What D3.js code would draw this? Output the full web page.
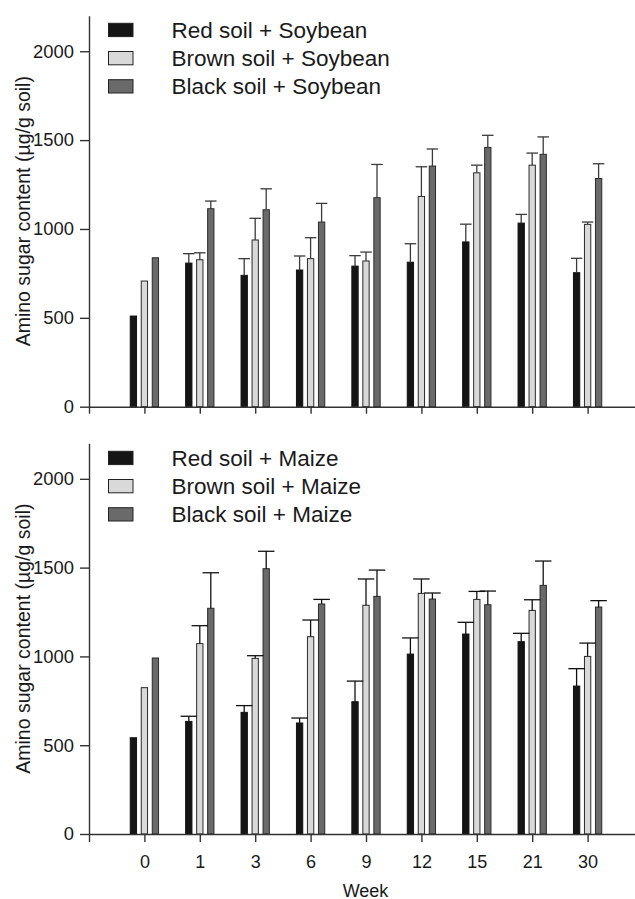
<!DOCTYPE html>
<html>
<head>
<meta charset="utf-8">
<script src="https://cdn.jsdelivr.net/npm/d3@7"></script>
<style>
  html, body { margin: 0; padding: 0; background: #fff; }
  svg { display: block; }
  text { font-family: "Liberation Sans", Arial, sans-serif; fill: #1a1a1a; }
</style>
</head>
<body>
<svg id="chart" width="635" height="899"></svg>
<script>
const weeks = ["0", "1", "3", "6", "9", "12", "15", "21", "30"];
const yTicks = [0, 500, 1000, 1500, 2000];

// Soybean panel (means and upper error lengths)
const soyRed      = [510, 808, 739, 769, 791, 813, 927, 1033, 754];
const soyRedErr   = [0, 53, 94, 79, 59, 104, 100, 49, 81];
const soyBrown    = [707, 827, 938, 833, 820, 1183, 1316, 1359, 1026];
const soyBrownErr = [0, 39, 122, 118, 50, 167, 43, 68, 13];
const soyBlack    = [838, 1114, 1108, 1039, 1176, 1354, 1459, 1420, 1284];
const soyBlackErr = [0, 43, 118, 105, 187, 96, 68, 98, 83];

// Maize panel
const maizeRed      = [542, 634, 685, 625, 745, 1013, 1126, 1083, 833];
const maizeRedErr   = [0, 29, 38, 28, 116, 91, 66, 47, 98];
const maizeBrown    = [824, 1072, 989, 1111, 1288, 1355, 1321, 1259, 1000];
const maizeBrownErr = [0, 101, 15, 94, 148, 81, 45, 60, 75];
const maizeBlack    = [991, 1271, 1494, 1295, 1338, 1323, 1291, 1400, 1278];
const maizeBlackErr = [0, 200, 98, 26, 148, 34, 77, 137, 36];

const soyLabels   = ["Red soil + Soybean", "Brown soil + Soybean", "Black soil + Soybean"];
const maizeLabels = ["Red soil + Maize", "Brown soil + Maize", "Black soil + Maize"];

const fills   = ["#151515", "#d9d9d9", "#6a6a6a"];
const strokes = ["#111111", "#2a2a2a", "#2a2a2a"];

const svg = d3.select("#chart");
const FONT = '"Liberation Sans", Arial, sans-serif';

function panel(cfg) {
  const g = svg.append("g");
  const x = d3.scaleLinear().domain([0, 10]).range([89, 643]);
  const y = d3.scaleLinear().domain([0, 2200]).range([cfg.bottom, cfg.top]);
  const barW = 7.3, off = 11;

  // bars
  cfg.series.forEach((vals, si) => {
    g.selectAll(null).data(vals).enter().append("rect")
      .attr("x", (d, i) => x(i + 1) + (si - 1) * off - barW / 2 + 0.5)
      .attr("y", d => y(d))
      .attr("width", barW - 1)
      .attr("height", d => y(0) - y(d))
      .attr("fill", fills[si])
      .attr("stroke", strokes[si])
      .attr("stroke-width", 1);
  });

  // error bars
  cfg.series.forEach((vals, si) => {
    const errs = cfg.errs[si];
    vals.forEach((v, i) => {
      if (!errs[i]) return;
      const cx = x(i + 1) + (si - 1) * off;
      const y0 = y(v), y1 = y(v + errs[i]);
      g.append("line").attr("x1", cx).attr("x2", cx).attr("y1", y0).attr("y2", y1)
        .attr("stroke", cfg.errColor).attr("stroke-width", 1.3);
      g.append("line").attr("x1", cx - cfg.capW / 2).attr("x2", cx + cfg.capW / 2)
        .attr("y1", y1).attr("y2", y1)
        .attr("stroke", cfg.errColor).attr("stroke-width", 1.3);
    });
  });

  // y axis
  const ya = g.append("g").attr("transform", "translate(89,0)")
    .call(d3.axisLeft(y).tickValues(yTicks).tickFormat(d3.format("d"))
      .tickSize(9).tickSizeOuter(0).tickPadding(6));
  ya.select(".domain").attr("stroke", "#333").attr("stroke-width", 1.4);
  ya.selectAll(".tick line").attr("stroke", "#333").attr("stroke-width", 1.4);
  ya.selectAll(".tick text").style("font-size", "18.4px").attr("fill", "#1a1a1a")
    .style("font-family", FONT);

  // x axis
  const xa = g.append("g").attr("transform", `translate(0,${cfg.bottom})`)
    .call(d3.axisBottom(x).tickValues(d3.range(0, 10)).tickSize(cfg.xTick).tickSizeOuter(0)
      .tickPadding(13)
      .tickFormat(i => (cfg.showX && i > 0) ? weeks[i - 1] : ""));
  xa.select(".domain").attr("stroke", "#333").attr("stroke-width", 1.6);
  xa.selectAll(".tick line").attr("stroke", "#333").attr("stroke-width", 1.4);
  xa.selectAll(".tick text").style("font-size", "18px").attr("fill", "#1a1a1a")
    .style("font-family", FONT);

  // y label
  g.append("text")
    .attr("transform", `translate(30,${(cfg.top + cfg.bottom) / 2}) rotate(-90)`)
    .attr("text-anchor", "middle")
    .style("font-size", "19.5px")
    .text("Amino sugar content (µg/g soil)");

  // legend
  cfg.labels.forEach((lab, i) => {
    const ly = cfg.legendTop + i * 28.2;
    g.append("rect").attr("x", 108.5).attr("y", ly).attr("width", 24.5).attr("height", 13.3)
      .attr("fill", fills[i]).attr("stroke", "#222").attr("stroke-width", 1);
    g.append("text").attr("x", 171.5).attr("y", ly + 14.5)
      .style("font-size", "22.5px").text(lab);
  });
}

panel({
  top: 15.7, bottom: 406.7, series: [soyRed, soyBrown, soyBlack],
  errs: [soyRedErr, soyBrownErr, soyBlackErr], labels: soyLabels,
  legendTop: 23.3, showX: false, xTick: 7, capW: 11.5, errColor: "#3a3a3a"
});
panel({
  top: 443.3, bottom: 834, series: [maizeRed, maizeBrown, maizeBlack],
  errs: [maizeRedErr, maizeBrownErr, maizeBlackErr], labels: maizeLabels,
  legendTop: 451.3, showX: true, xTick: 8, capW: 16.5, errColor: "#111"
});

svg.append("text").attr("x", 365.5).attr("y", 896.5)
  .attr("text-anchor", "middle").style("font-size", "18px").text("Week");
</script>
</body>
</html>
